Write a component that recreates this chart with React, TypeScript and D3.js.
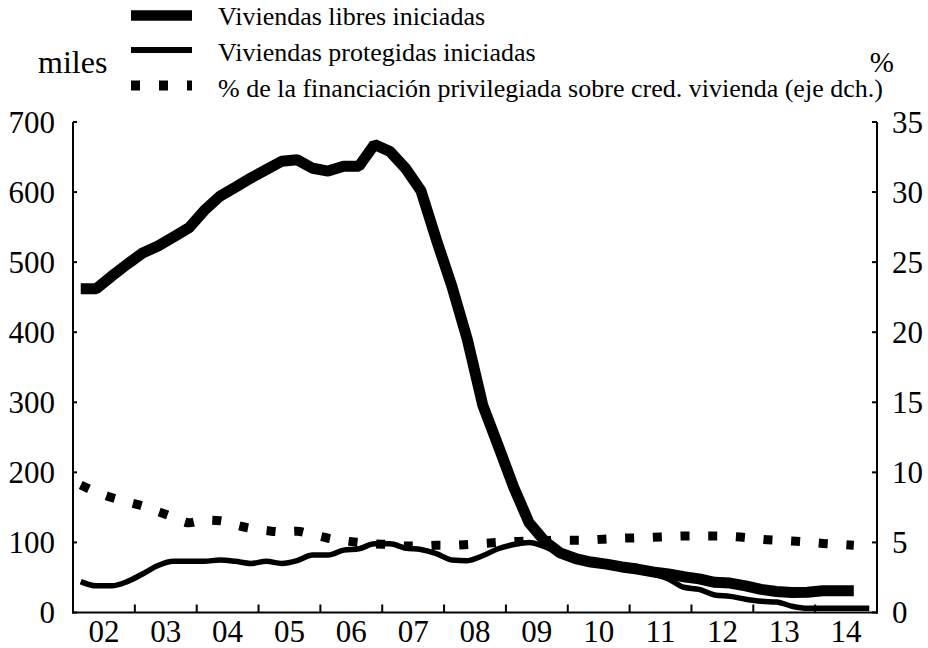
import React from "react";
import * as d3 from "d3";

// ---- Data (quarterly, 2002 Q1 onward) ----
const years = [2002, 2003, 2004, 2005, 2006, 2007, 2008, 2009, 2010, 2011, 2012, 2013, 2014];
const quarterNums = [1, 2, 3, 4];

// Viviendas libres iniciadas (miles), 2002Q1..2014Q3
const libres = [
  462, 462, 480, 497, 513, 523, 536, 549, 574, 594, 607, 620, 632, 644, 646, 634,
  630, 637, 637, 668, 658, 634, 602, 532, 466, 390, 296, 238, 179, 128, 102, 85,
  77, 72, 69, 65, 62, 58, 55, 51, 48, 43, 42, 38, 33, 30, 28.5, 29, 31, 31, 31,
];

// Viviendas protegidas iniciadas (miles), 2002Q1..2014Q4
const protegidas = [
  44, 38, 38, 44, 55, 67, 73, 73, 73, 75, 73, 70, 73, 70, 74, 82,
  82, 89, 91, 98, 98, 92, 90, 84, 75, 74, 81, 91, 97, 100, 94, 84,
  74, 70, 67, 63, 59, 55, 48, 36, 33, 25, 23, 19, 16, 15, 9, 6, 6, 6, 6, 6,
];

// % de la financiación privilegiada sobre créd. vivienda (eje dch.), 2002Q1..2014Q3
const financiacion = [
  9.1, 8.6, 8.2, 7.9, 7.6, 7.2, 6.8, 6.4, 6.6, 6.55, 6.25, 6.0, 5.85, 5.75, 5.8, 5.55,
  5.3, 5.12, 5.0, 4.9, 4.85, 4.75, 4.75, 4.8, 4.8, 4.85, 4.93, 5.0, 5.07, 5.1, 5.12, 5.15,
  5.15, 5.18, 5.25, 5.3, 5.33, 5.37, 5.42, 5.46, 5.46, 5.46, 5.43, 5.35, 5.22, 5.15, 5.1, 5.02, 4.93, 4.87, 4.8,
];

const yearLabels = ["02", "03", "04", "05", "06", "07", "08", "09", "10", "11", "12", "13", "14"];
const leftTicks = [0, 100, 200, 300, 400, 500, 600, 700];
const rightTicks = [0, 5, 10, 15, 20, 25, 30, 35];
const legendLabels = [
  "Viviendas libres iniciadas",
  "Viviendas protegidas iniciadas",
  "% de la financiación privilegiada sobre cred. vivienda (eje dch.)",
];

// quarter midpoints as fractional years
const quarterTimes = years.flatMap((y) => quarterNums.map((q) => y + (q - 0.5) / 4));

const W = 928;
const H = 648;
const FONT = "'Liberation Serif', 'Times New Roman', Times, serif";

export default function App() {
  const x = d3.scaleLinear().domain([2002, 2015]).range([73, 877]);
  const yL = d3.scaleLinear().domain([0, 700]).range([612.5, 122]);
  const yR = d3.scaleLinear().domain([0, 35]).range([612.5, 122]);

  const lineL = d3
    .line<number>()
    .x((_, i) => x(quarterTimes[i]))
    .y((d) => yL(d));
  const lineThin = d3
    .line<number>()
    .x((_, i) => x(quarterTimes[i]))
    .y((d) => yL(d))
    .curve(d3.curveMonotoneX);
  const lineR = d3
    .line<number>()
    .x((_, i) => x(quarterTimes[i]))
    .y((d) => yR(d))
    .curve(d3.curveMonotoneX);

  const x0 = x(2002);
  const x1 = x(2015);
  const yb = yL(0);
  const yt = yL(700);

  return (
    <svg
      width={W}
      height={H}
      style={{ position: "absolute", left: 0, top: 0, background: "#fff" }}
      fontFamily={FONT}
    >
      <rect x={0} y={0} width={W} height={H} fill="#fff" />

      {/* Axes */}
      <g stroke="#000" strokeWidth={2} fill="none">
        <line x1={x0} y1={yt} x2={x0} y2={yb + 1} />
        <line x1={x1} y1={yt} x2={x1} y2={yb + 1} />
        <line x1={x0 - 1} y1={yb} x2={x1 + 1} y2={yb} />
        {leftTicks.map((t) => (
          <line key={"lt" + t} x1={x0} x2={x0 + 4} y1={yL(t)} y2={yL(t)} />
        ))}
        {rightTicks.map((t) => (
          <line key={"rt" + t} x1={x1} x2={x1 - 5} y1={yR(t)} y2={yR(t)} />
        ))}
        {years.slice(1).map((yr) => (
          <line key={"bt" + yr} x1={x(yr)} x2={x(yr)} y1={yb} y2={yb - 8} />
        ))}
      </g>

      {/* Tick labels */}
      <g fontSize={31} fill="#000">
        {leftTicks.map((t) => (
          <text key={"ll" + t} x={55} y={yL(t) + 10.5} textAnchor="end">
            {t}
          </text>
        ))}
        {rightTicks.map((t) => (
          <text key={"rl" + t} x={892} y={yR(t) + 10.5} textAnchor="start">
            {t}
          </text>
        ))}
        {years.map((yr, i) => (
          <text key={"xl" + yr} x={x(yr + 0.5)} y={642} textAnchor="middle">
            {yearLabels[i]}
          </text>
        ))}
      </g>

      {/* Unit labels */}
      <text x={38} y={73} fontSize={32} fill="#000">
        miles
      </text>
      <text x={894} y={72} fontSize={29} textAnchor="end" fill="#000">
        %
      </text>

      {/* Series */}
      <path
        d={lineR(financiacion) || ""}
        fill="none"
        stroke="#000"
        strokeWidth={9}
        strokeDasharray="9 18.7"
      />
      <path d={lineThin(protegidas) || ""} fill="none" stroke="#000" strokeWidth={5.5} />
      <path
        d={lineL(libres) || ""}
        fill="none"
        stroke="#000"
        strokeWidth={11}
        strokeLinejoin="bevel"
      />

      {/* Legend */}
      <g stroke="#000" fill="none">
        <line x1={131} x2={192} y1={15.5} y2={15.5} strokeWidth={10.5} />
        <line x1={131} x2={192} y1={50} y2={50} strokeWidth={6} />
        <line x1={131} x2={192} y1={85.5} y2={85.5} strokeWidth={10} strokeDasharray="9 19" />
      </g>
      <g fontSize={26} fill="#000">
        {legendLabels.map((l, i) => (
          <text key={l} x={218} y={25 + i * 36}>
            {l}
          </text>
        ))}
      </g>
    </svg>
  );
}
